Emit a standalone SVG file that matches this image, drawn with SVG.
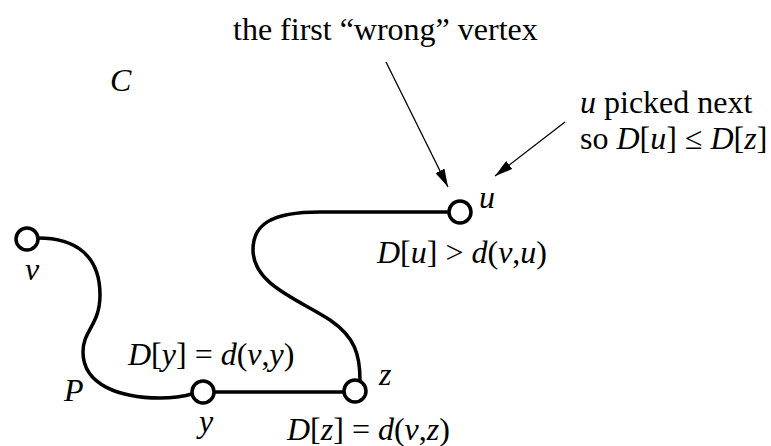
<svg xmlns="http://www.w3.org/2000/svg" width="771" height="446" viewBox="0 0 771 446">
  <style>
    text { font-family: "Liberation Serif", "Times New Roman", serif; font-size: 32px; fill: #000; }
    .i { font-style: italic; }
    .path { fill: none; stroke: #000; stroke-width: 3.5; stroke-linecap: round; }
    .node { fill: #fff; stroke: #000; stroke-width: 3.5; }
    .arrow { fill: none; stroke: #000; stroke-width: 1.3; }
  </style>
  <defs>
    <marker id="ah" viewBox="0 0 18 10" refX="18" refY="5" markerWidth="18" markerHeight="10" markerUnits="userSpaceOnUse" orient="auto">
      <path d="M0,0 L18,5 L0,10 Z" fill="#000"/>
    </marker>
  </defs>
  <rect width="771" height="446" fill="#fff"/>

  <g id="connectors">
    <path class="path" d="M38,238 C75,238 100,255 100,295 C100,325 83,330 83,352 C83,385 120,398 160,398 C175,398 185,396 192,394"/>
    <path class="path" d="M215,392 L343,392"/>
    <path class="path" d="M449,212 L320,212 C270,212 253,225 253,250 C253,285 300,300 330,320 C355,337 360,355 360,380"/>
    <path class="arrow" d="M386,62 L448,187" marker-end="url(#ah)"/>
    <path class="arrow" d="M565,122 L495,176" marker-end="url(#ah)"/>
  </g>

  <g id="node-v">
    <circle class="node" cx="27" cy="239" r="11"/>
    <text x="25" y="280" class="i">v</text>
  </g>
  <g id="node-y">
    <circle class="node" cx="203" cy="392" r="11"/>
    <text x="199" y="432" class="i">y</text>
  </g>
  <g id="node-z">
    <circle class="node" cx="355" cy="391" r="11"/>
    <text x="379" y="385" class="i">z</text>
  </g>
  <g id="node-u">
    <circle class="node" cx="460" cy="212" r="11"/>
    <text x="479" y="208" class="i">u</text>
  </g>

  <g id="labels">
    <text x="233" y="40">the first “wrong” vertex</text>
    <text x="110" y="91" class="i">C</text>
    <text x="580" y="113"><tspan class="i">u</tspan> picked next</text>
    <text x="580" y="149">so <tspan class="i">D</tspan>[<tspan class="i">u</tspan>] ≤ <tspan class="i">D</tspan>[<tspan class="i">z</tspan>]</text>
    <text x="377" y="263"><tspan class="i">D</tspan>[<tspan class="i">u</tspan>] &gt; <tspan class="i">d</tspan>(<tspan class="i">v</tspan>,<tspan class="i">u</tspan>)</text>
    <text x="128" y="365"><tspan class="i">D</tspan>[<tspan class="i">y</tspan>] = <tspan class="i">d</tspan>(<tspan class="i">v</tspan>,<tspan class="i">y</tspan>)</text>
    <text x="64" y="401" class="i">P</text>
    <text x="287" y="440"><tspan class="i">D</tspan>[<tspan class="i">z</tspan>] = <tspan class="i">d</tspan>(<tspan class="i">v</tspan>,<tspan class="i">z</tspan>)</text>
  </g>
</svg>
